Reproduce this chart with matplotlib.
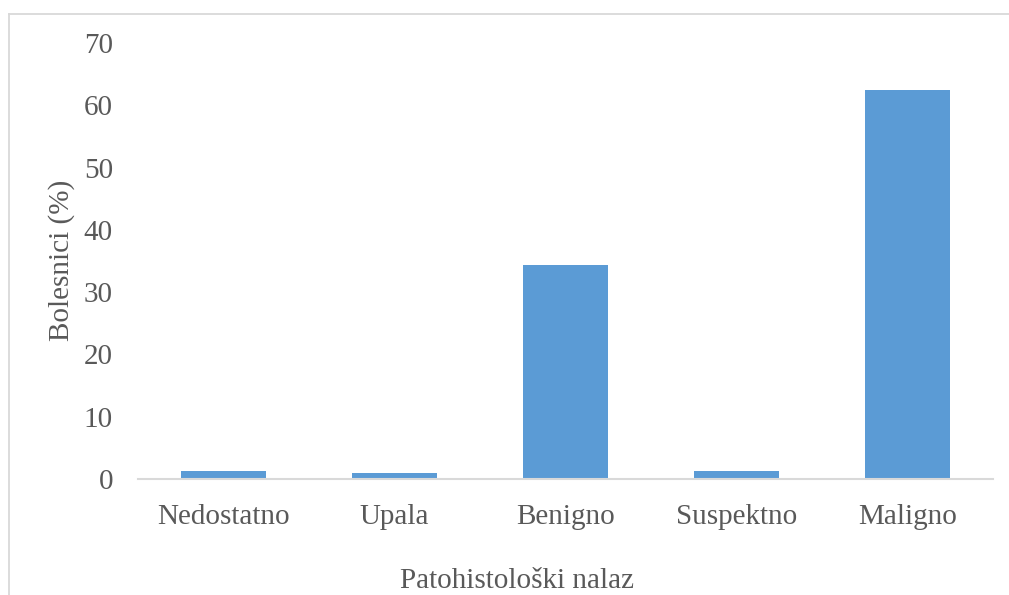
import matplotlib
matplotlib.use("Agg")
import matplotlib.pyplot as plt
from matplotlib.lines import Line2D

categories = ["Nedostatno", "Upala", "Benigno", "Suspektno", "Maligno"]
values = [1.3, 1.0, 34.3, 1.3, 62.5]
yticks = [0, 10, 20, 30, 40, 50, 60, 70]

plt.rcParams['font.family'] = ['Liberation Serif', 'DejaVu Serif']
txt = '#595959'
grid = '#d9d9d9'
W, H = 1009, 595

fig = plt.figure(figsize=(W / 100, H / 100), dpi=100)
# outer chart border: top and left only (as in reference)
fig.add_artist(Line2D([8.5 / W, 1.0], [1 - 13.5 / H, 1 - 13.5 / H], transform=fig.transFigure,
                      color=grid, linewidth=1.3))
fig.add_artist(Line2D([8.5 / W, 8.5 / W], [0, 1 - 13.5 / H], transform=fig.transFigure,
                      color=grid, linewidth=1.3))

ax = fig.add_axes([138 / W, 1 - 479 / H, (993 - 138) / W, (479 - 43) / H])
x = list(range(len(categories)))
ax.bar(x, values, width=0.5, color='#5b9bd5')
ax.set_xlim(-0.5, len(categories) - 0.5)
ax.set_ylim(0, 70)
ax.set_yticks(yticks)
ax.set_xticks(x)
ax.set_xticklabels(categories)
for s in ['top', 'right', 'left']:
    ax.spines[s].set_visible(False)
ax.spines['bottom'].set_color(grid)
ax.spines['bottom'].set_linewidth(1.5)
ax.tick_params(axis='both', length=0, labelsize=21, colors=txt)
ax.tick_params(axis='y', pad=18)
ax.tick_params(axis='x', pad=18)

fig.text(62 / W, 1 - 260 / H, "Bolesnici (%)", fontsize=21, color=txt,
         rotation=90, ha='center', va='center')
fig.text(517 / W, 1 - 588 / H, "Patohistološki nalaz", fontsize=21, color=txt,
         ha='center', va='baseline')
fig.savefig("out.png", dpi=100)
